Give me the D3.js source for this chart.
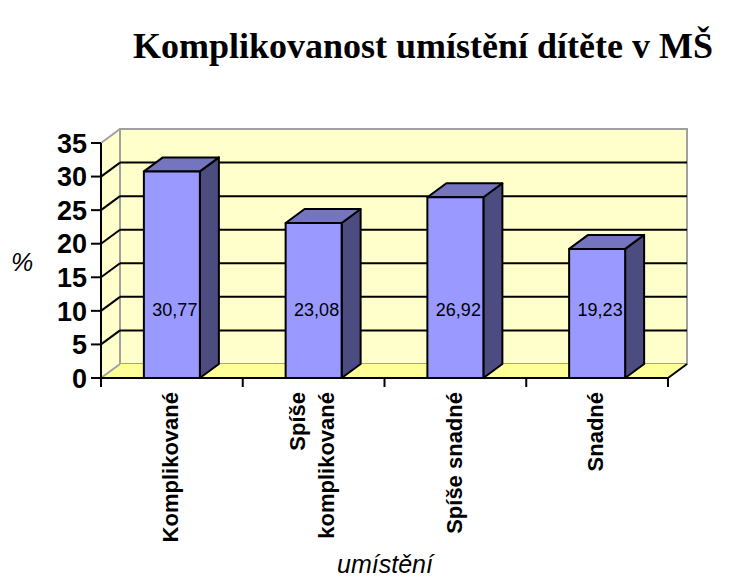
<!DOCTYPE html>
<html>
<head>
<meta charset="utf-8">
<script src="https://cdn.jsdelivr.net/npm/d3@7"></script>
<style>
  body { margin: 0; background: #fff; }
  svg { display: block; }
</style>
</head>
<body>
<div id="chart"></div>
<script>
  // --- Data ---
  const categories = ["Komplikované", "Spíše\nkomplikované", "Spíše snadné", "Snadné"];
  const values = [30.77, 23.08, 26.92, 19.23];
  const valueLabels = ["30,77", "23,08", "26,92", "19,23"];
  const yTicks = [0, 5, 10, 15, 20, 25, 30, 35];

  const width = 733, height = 583;
  const depth = { dx: 19, dy: -14 }; // 3D offset of back wall

  const svg = d3.select("#chart").append("svg")
      .attr("width", width)
      .attr("height", height);

  const x = d3.scaleBand().domain(d3.range(categories.length)).range([101, 668]);
  const y = d3.scaleLinear().domain([0, 35]).range([378, 143]);
  const barW = 56;

  const x0 = x.range()[0], x1 = x.range()[1];
  const yTop = y(35), yBot = y(0);

  // --- Walls ---
  // left wall
  svg.append("polygon")
      .attr("points", [[x0, yBot], [x0, yTop], [x0 + depth.dx, yTop + depth.dy], [x0 + depth.dx, yBot + depth.dy]].join(" "))
      .attr("fill", "#ffffcc");
  // back wall
  svg.append("rect")
      .attr("x", x0 + depth.dx).attr("y", yTop + depth.dy)
      .attr("width", x1 - x0).attr("height", yBot - yTop)
      .attr("fill", "#ffffcc")
      .attr("stroke", "#a0a0a0").attr("stroke-width", 2);
  // floor
  svg.append("polygon")
      .attr("points", [[x0, yBot], [x1, yBot], [x1 + depth.dx, yBot + depth.dy], [x0 + depth.dx, yBot + depth.dy]].join(" "))
      .attr("fill", "#ffff99");

  // gridlines (back wall + left wall diagonals)
  const grid = svg.append("g");
  yTicks.forEach(t => {
    const c = (t === 0 || t === 35) ? "#a0a0a0" : "#000";
    grid.append("line")
        .attr("x1", x0).attr("y1", y(t))
        .attr("x2", x0 + depth.dx).attr("y2", y(t) + depth.dy)
        .attr("stroke", c).attr("stroke-width", 2);
    if (t > 0 && t < 35) {
      grid.append("line")
          .attr("x1", x0 + depth.dx).attr("y1", y(t) + depth.dy)
          .attr("x2", x1 + depth.dx).attr("y2", y(t) + depth.dy)
          .attr("stroke", "#000").attr("stroke-width", 2);
    }
  });

  // --- Bars ---
  const bars = svg.append("g")
      .attr("stroke", "#000").attr("stroke-width", 2).attr("stroke-linejoin", "round");
  values.forEach((v, i) => {
    const bx = x(i) + x.bandwidth() / 2 - barW / 2;
    const by = y(v);
    // side
    bars.append("polygon")
        .attr("points", [[bx + barW, yBot], [bx + barW, by], [bx + barW + depth.dx, by + depth.dy], [bx + barW + depth.dx, yBot + depth.dy]].join(" "))
        .attr("fill", "#4c4c80");
    // top
    bars.append("polygon")
        .attr("points", [[bx, by], [bx + barW, by], [bx + barW + depth.dx, by + depth.dy], [bx + depth.dx, by + depth.dy]].join(" "))
        .attr("fill", "#7474bf");
    // front
    bars.append("rect")
        .attr("x", bx).attr("y", by).attr("width", barW).attr("height", yBot - by)
        .attr("fill", "#9999ff");
  });

  // value labels
  svg.append("g").selectAll("text")
      .data(valueLabels)
      .join("text")
      .attr("x", (d, i) => x(i) + x.bandwidth() / 2 + 3)
      .attr("y", y(10.1))
      .attr("dy", "0.35em")
      .attr("text-anchor", "middle")
      .attr("font-family", "Liberation Sans, Arial, sans-serif")
      .attr("font-size", 18)
      .attr("fill", "#000")
      .text(d => d);

  // --- Axes ---
  const axes = svg.append("g").attr("stroke", "#000").attr("stroke-width", 2);
  axes.append("line").attr("x1", x0).attr("y1", yTop).attr("x2", x0).attr("y2", yBot);
  axes.append("line").attr("x1", x0).attr("y1", yBot).attr("x2", x1).attr("y2", yBot);
  axes.append("line").attr("x1", x1).attr("y1", yBot).attr("x2", x1 + depth.dx).attr("y2", yBot + depth.dy);
  yTicks.forEach(t => {
    axes.append("line").attr("x1", x0 - 10).attr("y1", y(t)).attr("x2", x0).attr("y2", y(t));
  });
  d3.range(categories.length + 1).forEach(i => {
    const tx = i < categories.length ? x(i) : x1;
    axes.append("line").attr("x1", tx).attr("y1", yBot).attr("x2", tx).attr("y2", yBot + 9);
  });

  // y tick labels
  svg.append("g").selectAll("text")
      .data(yTicks)
      .join("text")
      .attr("x", 87)
      .attr("y", d => y(d))
      .attr("dy", "0.36em")
      .attr("text-anchor", "end")
      .attr("font-family", "Liberation Sans, Arial, sans-serif")
      .attr("font-weight", "bold")
      .attr("font-size", 27)
      .text(d => d);

  // category labels (rotated)
  const catG = svg.append("g")
      .attr("font-family", "Liberation Sans, Arial, sans-serif")
      .attr("font-weight", "bold")
      .attr("font-size", 22);
  categories.forEach((c, i) => {
    const lines = c.split("\n");
    const cx = x(i) + x.bandwidth() / 2 - 1.5;
    const t = catG.append("text")
        .attr("transform", `translate(${cx},392) rotate(-90)`)
        .attr("text-anchor", "end");
    lines.forEach((ln, j) => {
      t.append("tspan")
          .attr("x", 0)
          .attr("y", (j - (lines.length - 1) / 2) * 29)
          .attr("dy", "0.35em")
          .text(ln);
    });
  });

  // --- Titles ---
  svg.append("text")
      .attr("x", 423).attr("y", 58)
      .attr("text-anchor", "middle")
      .attr("font-family", "Liberation Serif, Times New Roman, serif")
      .attr("font-weight", "bold")
      .attr("font-size", 36)
      .text("Komplikovanost umístění dítěte v MŠ");

  svg.append("text")
      .attr("x", 22).attr("y", 262)
      .attr("dy", "0.35em")
      .attr("text-anchor", "middle")
      .attr("font-family", "Liberation Sans, Arial, sans-serif")
      .attr("font-style", "italic")
      .attr("font-size", 25)
      .text("%");

  svg.append("text")
      .attr("x", 385).attr("y", 573)
      .attr("text-anchor", "middle")
      .attr("font-family", "Liberation Sans, Arial, sans-serif")
      .attr("font-style", "italic")
      .attr("font-size", 25)
      .text("umístění");
</script>
</body>
</html>
